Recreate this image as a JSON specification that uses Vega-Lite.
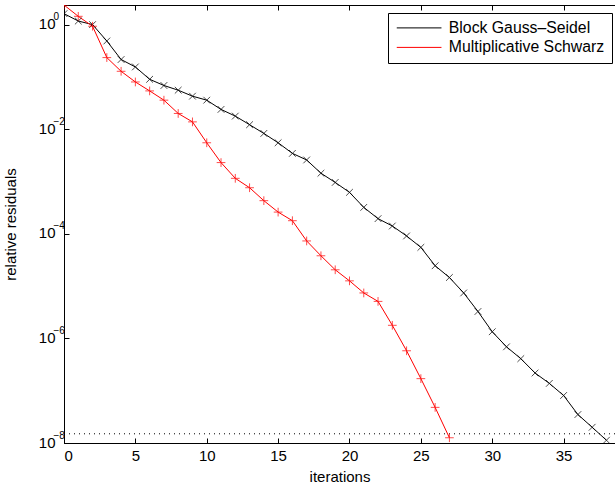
{
  "$schema": "https://vega.github.io/schema/vega-lite/v6.json",
  "autosize": {"type": "none"},
  "width": 551,
  "height": 438,
  "padding": {"left": 64, "top": 5, "right": 0, "bottom": 40},
  "background": "white",
  "config": {
    "font": "Liberation Sans",
    "view": {"stroke": "black", "strokeWidth": 1},
    "axis": {
      "domainColor": "black",
      "tickColor": "black",
      "labelColor": "black",
      "titleColor": "black",
      "labelFont": "Liberation Sans",
      "titleFont": "Liberation Sans",
      "labelFontSize": 15,
      "titleFontSize": 15,
      "titleFontWeight": "normal",
      "grid": false,
      "tickSize": -5
    },
    "legend": {
      "labelFont": "Liberation Sans",
      "labelFontSize": 15.8,
      "labelColor": "black"
    }
  },
  "data": {
    "values": [
      {"series": "Block Gauss–Seidel", "it": 0, "res": 1.62},
      {"series": "Block Gauss–Seidel", "it": 1, "res": 1.17},
      {"series": "Block Gauss–Seidel", "it": 2, "res": 1.0},
      {"series": "Block Gauss–Seidel", "it": 3, "res": 0.486},
      {"series": "Block Gauss–Seidel", "it": 4, "res": 0.215},
      {"series": "Block Gauss–Seidel", "it": 5, "res": 0.155},
      {"series": "Block Gauss–Seidel", "it": 6, "res": 0.09},
      {"series": "Block Gauss–Seidel", "it": 7, "res": 0.0685},
      {"series": "Block Gauss–Seidel", "it": 8, "res": 0.0557},
      {"series": "Block Gauss–Seidel", "it": 9, "res": 0.0428},
      {"series": "Block Gauss–Seidel", "it": 10, "res": 0.0359},
      {"series": "Block Gauss–Seidel", "it": 11, "res": 0.0239},
      {"series": "Block Gauss–Seidel", "it": 12, "res": 0.0178},
      {"series": "Block Gauss–Seidel", "it": 13, "res": 0.0122},
      {"series": "Block Gauss–Seidel", "it": 14, "res": 0.0083},
      {"series": "Block Gauss–Seidel", "it": 15, "res": 0.0055},
      {"series": "Block Gauss–Seidel", "it": 16, "res": 0.00345},
      {"series": "Block Gauss–Seidel", "it": 17, "res": 0.00258},
      {"series": "Block Gauss–Seidel", "it": 18, "res": 0.00144},
      {"series": "Block Gauss–Seidel", "it": 19, "res": 0.00096},
      {"series": "Block Gauss–Seidel", "it": 20, "res": 0.00062},
      {"series": "Block Gauss–Seidel", "it": 21, "res": 0.00032},
      {"series": "Block Gauss–Seidel", "it": 22, "res": 0.000195},
      {"series": "Block Gauss–Seidel", "it": 23, "res": 0.000141},
      {"series": "Block Gauss–Seidel", "it": 24, "res": 9.1e-5},
      {"series": "Block Gauss–Seidel", "it": 25, "res": 5.5e-5},
      {"series": "Block Gauss–Seidel", "it": 26, "res": 2.45e-5},
      {"series": "Block Gauss–Seidel", "it": 27, "res": 1.46e-5},
      {"series": "Block Gauss–Seidel", "it": 28, "res": 7.4e-6},
      {"series": "Block Gauss–Seidel", "it": 29, "res": 3.27e-6},
      {"series": "Block Gauss–Seidel", "it": 30, "res": 1.34e-6},
      {"series": "Block Gauss–Seidel", "it": 31, "res": 6.9e-7},
      {"series": "Block Gauss–Seidel", "it": 32, "res": 4.1e-7},
      {"series": "Block Gauss–Seidel", "it": 33, "res": 2.18e-7},
      {"series": "Block Gauss–Seidel", "it": 34, "res": 1.38e-7},
      {"series": "Block Gauss–Seidel", "it": 35, "res": 8.1e-8},
      {"series": "Block Gauss–Seidel", "it": 36, "res": 3.5e-8},
      {"series": "Block Gauss–Seidel", "it": 37, "res": 2.0e-8},
      {"series": "Block Gauss–Seidel", "it": 38, "res": 1.13e-8},
      {"series": "Multiplicative Schwarz", "it": 0, "res": 2.37},
      {"series": "Multiplicative Schwarz", "it": 1, "res": 1.44},
      {"series": "Multiplicative Schwarz", "it": 2, "res": 0.93},
      {"series": "Multiplicative Schwarz", "it": 3, "res": 0.234},
      {"series": "Multiplicative Schwarz", "it": 4, "res": 0.128},
      {"series": "Multiplicative Schwarz", "it": 5, "res": 0.08},
      {"series": "Multiplicative Schwarz", "it": 6, "res": 0.054},
      {"series": "Multiplicative Schwarz", "it": 7, "res": 0.0359},
      {"series": "Multiplicative Schwarz", "it": 8, "res": 0.02},
      {"series": "Multiplicative Schwarz", "it": 9, "res": 0.0138},
      {"series": "Multiplicative Schwarz", "it": 10, "res": 0.0055},
      {"series": "Multiplicative Schwarz", "it": 11, "res": 0.0023},
      {"series": "Multiplicative Schwarz", "it": 12, "res": 0.00115},
      {"series": "Multiplicative Schwarz", "it": 13, "res": 0.00076},
      {"series": "Multiplicative Schwarz", "it": 14, "res": 0.00043},
      {"series": "Multiplicative Schwarz", "it": 15, "res": 0.00026},
      {"series": "Multiplicative Schwarz", "it": 16, "res": 0.000178},
      {"series": "Multiplicative Schwarz", "it": 17, "res": 7.3e-5},
      {"series": "Multiplicative Schwarz", "it": 18, "res": 3.8e-5},
      {"series": "Multiplicative Schwarz", "it": 19, "res": 2.05e-5},
      {"series": "Multiplicative Schwarz", "it": 20, "res": 1.26e-5},
      {"series": "Multiplicative Schwarz", "it": 21, "res": 7.4e-6},
      {"series": "Multiplicative Schwarz", "it": 22, "res": 5.1e-6},
      {"series": "Multiplicative Schwarz", "it": 23, "res": 1.78e-6},
      {"series": "Multiplicative Schwarz", "it": 24, "res": 5.8e-7},
      {"series": "Multiplicative Schwarz", "it": 25, "res": 1.7e-7},
      {"series": "Multiplicative Schwarz", "it": 26, "res": 4.8e-8},
      {"series": "Multiplicative Schwarz", "it": 27, "res": 1.26e-8}
    ]
  },
  "layer": [
    {
      "data": {"values": [{"tol": 1.5e-8}]},
      "mark": {"type": "rule", "color": "black", "strokeWidth": 1, "strokeDash": [1, 4]},
      "encoding": {
        "y": {"field": "tol", "type": "quantitative", "scale": {"type": "log", "domain": [1e-8, 2.37], "nice": false}, "axis": null}
      }
    },
    {
      "mark": {"type": "line", "strokeWidth": 1, "clip": true},
      "encoding": {
        "x": {
          "field": "it", "type": "quantitative",
          "scale": {"domain": [0, 38.6], "nice": false, "zero": false},
          "axis": {"values": [0, 5, 10, 15, 20, 25, 30, 35], "title": "iterations", "labelPadding": 10, "titlePadding": 6}
        },
        "y": {
          "field": "res", "type": "quantitative",
          "scale": {"type": "log", "domain": [1e-8, 2.37], "nice": false},
          "axis": {
            "orient": "left",
            "values": [1e-8, 1e-6, 1e-4, 1e-2, 1],
            "title": "relative residuals",
            "labelPadding": 14,
            "labelOffset": -1,
            "titlePadding": 20,
            "labelExpr": "'10'"
          }
        },
        "color": {
          "field": "series", "type": "nominal",
          "scale": {"domain": ["Block Gauss–Seidel", "Multiplicative Schwarz"], "range": ["black", "red"]},
          "legend": {
            "title": null,
            "orient": "none",
            "legendX": 324,
            "legendY": 8,
            "symbolType": "M-5.5,0L34.5,0",
            "symbolSize": 5,
            "symbolStrokeWidth": 1,
            "fillColor": "white",
            "strokeColor": "black",
            "padding": 7,
            "rowPadding": 2.5,
            "labelOffset": 38
          }
        }
      }
    },
    {
      "transform": [{"filter": "datum.series === 'Block Gauss–Seidel'"}],
      "mark": {"type": "point", "filled": false, "strokeWidth": 1, "size": 45, "color": "black", "shape": "M-1,-1L1,1M-1,1L1,-1", "clip": true},
      "encoding": {
        "x": {
          "field": "it", "type": "quantitative",
          "scale": {"domain": [0, 38.6], "nice": false, "zero": false},
          "axis": {"orient": "top", "values": [0, 5, 10, 15, 20, 25, 30, 35], "labels": false, "title": null, "domain": false}
        },
        "y": {
          "field": "res", "type": "quantitative",
          "scale": {"type": "log", "domain": [1e-8, 2.37], "nice": false},
          "axis": {
            "orient": "left",
            "values": [1e-8, 1e-6, 1e-4, 1e-2, 1],
            "title": null,
            "ticks": false,
            "domain": false,
            "labelFontSize": 10,
            "labelAlign": "left",
            "labelPadding": 11,
            "labelOffset": -8,
            "labelExpr": "datum.value >= 0.5 ? '0' : datum.value >= 0.005 ? '−2' : datum.value >= 5e-5 ? '−4' : datum.value >= 5e-7 ? '−6' : '−8'"
          }
        }
      }
    },
    {
      "transform": [{"filter": "datum.series === 'Multiplicative Schwarz'"}],
      "mark": {"type": "point", "filled": false, "strokeWidth": 1, "size": 45, "color": "red", "shape": "M-1.3,0L1.3,0M0,-1.3L0,1.3", "clip": true},
      "encoding": {
        "x": {"field": "it", "type": "quantitative", "scale": {"domain": [0, 38.6], "nice": false, "zero": false}, "axis": null},
        "y": {"field": "res", "type": "quantitative", "scale": {"type": "log", "domain": [1e-8, 2.37], "nice": false}, "axis": null}
      }
    }
  ],
  "resolve": {"axis": {"x": "independent", "y": "independent"}}
}
